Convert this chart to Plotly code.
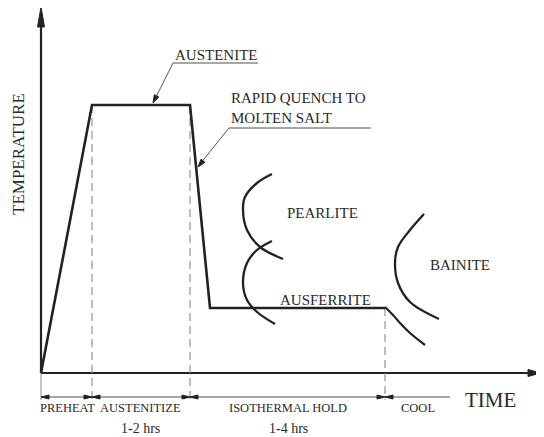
import plotly.graph_objects as go

# ---- schematic data (time / temperature in drawing units) ----
profile_time = [0, 51, 149, 169, 344]
profile_temp = [0, 268, 268, 65, 65]
cool_time = [344, 352, 359, 369, 384]
cool_temp = [66, 58, 50, 40, 28]

pearlite_upper_time = [231, 216, 204, 202, 206, 219, 242]
pearlite_upper_temp = [199, 190, 176, 163, 143, 126, 114]
pearlite_lower_time = [231, 216, 206, 202, 206, 216, 234]
pearlite_lower_temp = [132, 123, 110, 90, 73, 61, 49]
bainite_time = [383, 369, 357, 354, 357, 369, 398]
bainite_temp = [159, 143, 126, 110, 90, 71, 54]

stage_bounds = [0, 51, 149, 344]
dim_end = 409
dim_level = -24
stage_names = ["PREHEAT", "AUSTENITIZE", "ISOTHERMAL HOLD", "COOL"]
stage_centers = [26, 99, 247, 377]
stage_durations = ["", "1-2 hrs", "1-4 hrs", ""]
axis_x_end = 500
axis_y_end = 366

DARK = "#222222"
GRAY = "#8a8a8a"
TXT = "#2a2a2a"
FONT = "Liberation Serif"

fig = go.Figure()


def line(x, y, color=DARK, width=2, dash=None, shape="linear"):
    fig.add_trace(go.Scatter(x=x, y=y, mode="lines", hoverinfo="skip",
                             line=dict(color=color, width=width, dash=dash, shape=shape),
                             showlegend=False))


def head(tip, tail, length, half, color=DARK):
    tx, ty = tip
    dx, dy = tip[0] - tail[0], tip[1] - tail[1]
    n = (dx * dx + dy * dy) ** 0.5
    ux, uy = dx / n, dy / n
    bx, by = tx - ux * length, ty - uy * length
    px, py = -uy * half, ux * half
    fig.add_trace(go.Scatter(x=[tx, bx + px, bx - px, tx], y=[ty, by + py, by - py, ty],
                             mode="lines", fill="toself", fillcolor=color,
                             line=dict(color=color, width=1), hoverinfo="skip",
                             showlegend=False))


# axes
line([0, 0], [0, axis_y_end - 10], width=2.2)
head((0, axis_y_end), (0, 0), 20, 3.5)
line([0, axis_x_end - 8], [0, 0], width=2.2)
head((axis_x_end, 0), (0, 0), 13, 3.5)

# dashed guides
for b, top in zip(stage_bounds[1:], [profile_temp[1], profile_temp[2], profile_temp[4]]):
    line([b, b], [top, dim_level - 3], color=GRAY, width=1.1, dash="8px,5px")
line([0, 0], [0, dim_level - 3], color=GRAY, width=1)

# dimension line
line([0, dim_end], [dim_level, dim_level], color=GRAY, width=1.5)
for i, b in enumerate(stage_bounds):
    head((b, dim_level), (b + 10, dim_level), 8, 2, color=DARK)
    if i > 0:
        head((b, dim_level), (b - 10, dim_level), 8, 2, color=DARK)

# heat-treatment profile
line(profile_time, profile_temp, width=2.6)
line(cool_time, cool_temp, width=2.2, shape="spline")

# transformation C-curves
line(pearlite_upper_time, pearlite_upper_temp, width=2.3, shape="spline")
line(pearlite_lower_time, pearlite_lower_temp, width=2.3, shape="spline")
line(bainite_time, bainite_temp, width=2.3, shape="spline")

# leader lines
line([132, 217], [310, 310], color=GRAY, width=1.5)
line([132, 114], [310, 274], color="#555555", width=1)
head((112, 270), (132, 310), 8, 2.5)
line([188, 330], [245, 245], color=GRAY, width=1.5)
line([188, 159], [245, 209], color="#555555", width=1)
head((157, 206), (188, 245), 8, 2.5)


def text(x, y, s, size, **kw):
    fig.add_annotation(x=x, y=y, text=s, showarrow=False, xref="x", yref="y",
                       font=dict(family=FONT, size=size, color=TXT), **kw)


text(175, 318, "AUSTENITE", 15)
text(188, 275, "RAPID QUENCH TO", 15, xanchor="left")
text(188, 255, "MOLTEN SALT", 15, xanchor="left")
text(281, 160, "PEARLITE", 15)
text(419, 108, "BAINITE", 15)
text(284, 73, "AUSFERRITE", 15)
for c, n_, d in zip(stage_centers, stage_names, stage_durations):
    text(c, -35, n_, 12.5)
    if d:
        text(c, -55, d, 14)
text(449, -27, "TIME", 21)
text(-23, 219, "TEMPERATURE", 17, textangle=-90)

# page has an 8px body margin: size and ranges compensate so drawing units map to window pixels
fig.update_layout(
    width=536, height=429, margin=dict(l=0, r=0, t=0, b=0),
    paper_bgcolor="white", plot_bgcolor="white",
    xaxis=dict(range=[-33, 503], visible=False, fixedrange=True),
    yaxis=dict(range=[-64, 365], visible=False, fixedrange=True),
)
fig.write_html("out.html")
